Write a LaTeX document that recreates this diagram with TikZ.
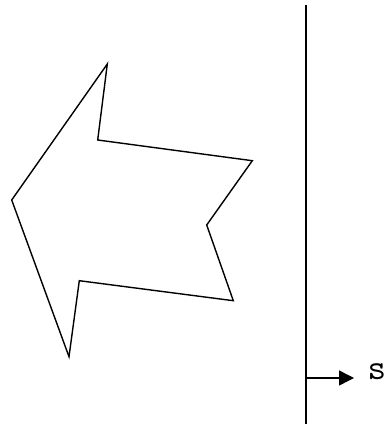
\documentclass[tikz,border=0pt]{standalone}
\usepackage{fontspec}
\usetikzlibrary{arrows.meta}
\begin{document}
\begin{tikzpicture}[x=1pt,y=-1pt,
  outline/.style={draw=black,line width=1.4pt,line join=miter},
  axis/.style={draw=black,line width=1.6pt},
  vec/.style={draw=black,line width=1.4pt,-{Triangle[length=15pt,width=15pt]}},
  lbl/.style={font=\ttfamily\fontsize{36}{40}\selectfont,inner sep=0pt}]
\useasboundingbox (0,0) rectangle (387,427);
\draw[outline] (107.3,64) -- (97.7,140) -- (252.3,160.7) -- (206.7,225) -- (233.3,300.7)
  -- (79.3,280.7) -- (69,356.7) -- (11.7,200) -- cycle;
\coordinate (top) at (306,5);
\coordinate (bot) at (306,424);
\draw[axis] (top) -- (bot);
\coordinate (base) at (306,378);
\coordinate (tip) at (354,378);
\draw[vec] (base) -- (tip);
\node[lbl,anchor=base] (s) at (377,379) {s};
\end{tikzpicture}
\end{document}
